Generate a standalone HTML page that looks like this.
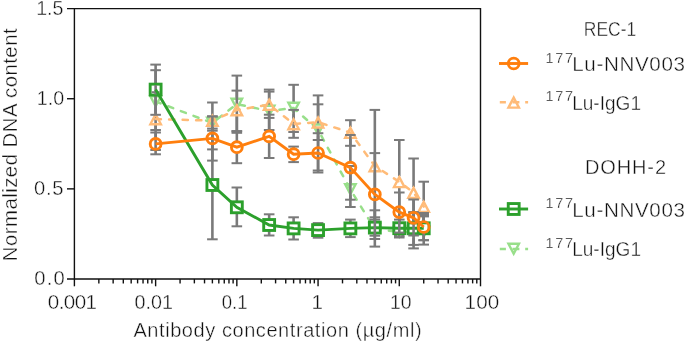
<!DOCTYPE html>
<html><head><meta charset="utf-8"><style>
html,body{margin:0;padding:0;background:#fff;}
body{width:685px;height:344px;overflow:hidden;font-family:"Liberation Sans",sans-serif;}
svg{display:block;}
svg{will-change:transform;}
</style></head><body>
<svg width="685" height="344" viewBox="0 0 685 344">
<g stroke="#111" stroke-width="1.4" fill="none">
<path d="M67,8.6 H480.5 V279.0 M74.4,8.6 V279.0 M67,279.0 H480.5"/>
<path d="M67,188.87 H74.4"/>
<path d="M67,98.73 H74.4"/>
<path d="M74.4,279.0 V286.3"/>
<path d="M155.62,279.0 V286.3"/>
<path d="M236.84,279.0 V286.3"/>
<path d="M318.06,279.0 V286.3"/>
<path d="M399.28,279.0 V286.3"/>
<path d="M480.5,279.0 V286.3"/>
<path d="M98.85,279.0 V283.4"/>
<path d="M113.15,279.0 V283.4"/>
<path d="M123.3,279.0 V283.4"/>
<path d="M131.17,279.0 V283.4"/>
<path d="M137.6,279.0 V283.4"/>
<path d="M143.04,279.0 V283.4"/>
<path d="M147.75,279.0 V283.4"/>
<path d="M151.9,279.0 V283.4"/>
<path d="M180.07,279.0 V283.4"/>
<path d="M194.37,279.0 V283.4"/>
<path d="M204.52,279.0 V283.4"/>
<path d="M212.39,279.0 V283.4"/>
<path d="M218.82,279.0 V283.4"/>
<path d="M224.26,279.0 V283.4"/>
<path d="M228.97,279.0 V283.4"/>
<path d="M233.12,279.0 V283.4"/>
<path d="M261.29,279.0 V283.4"/>
<path d="M275.59,279.0 V283.4"/>
<path d="M285.74,279.0 V283.4"/>
<path d="M293.61,279.0 V283.4"/>
<path d="M300.04,279.0 V283.4"/>
<path d="M305.48,279.0 V283.4"/>
<path d="M310.19,279.0 V283.4"/>
<path d="M314.34,279.0 V283.4"/>
<path d="M342.51,279.0 V283.4"/>
<path d="M356.81,279.0 V283.4"/>
<path d="M366.96,279.0 V283.4"/>
<path d="M374.83,279.0 V283.4"/>
<path d="M381.26,279.0 V283.4"/>
<path d="M386.7,279.0 V283.4"/>
<path d="M391.41,279.0 V283.4"/>
<path d="M395.56,279.0 V283.4"/>
<path d="M423.73,279.0 V283.4"/>
<path d="M438.03,279.0 V283.4"/>
<path d="M448.18,279.0 V283.4"/>
<path d="M456.05,279.0 V283.4"/>
<path d="M462.48,279.0 V283.4"/>
<path d="M467.92,279.0 V283.4"/>
<path d="M472.63,279.0 V283.4"/>
<path d="M476.78,279.0 V283.4"/>
</g>
<line x1="155.62" y1="70.2" x2="155.62" y2="95.9" stroke="#7a7a7a" stroke-width="2.6"/>
<line x1="155.62" y1="107.1" x2="155.62" y2="130" stroke="#7a7a7a" stroke-width="2.6"/>
<line x1="150.32" y1="70.2" x2="160.92" y2="70.2" stroke="#7a7a7a" stroke-width="2.0"/>
<line x1="150.32" y1="130" x2="160.92" y2="130" stroke="#7a7a7a" stroke-width="2.0"/>
<line x1="212.39" y1="102.5" x2="212.39" y2="117.4" stroke="#7a7a7a" stroke-width="2.6"/>
<line x1="212.39" y1="128.6" x2="212.39" y2="149.4" stroke="#7a7a7a" stroke-width="2.6"/>
<line x1="207.09" y1="102.5" x2="217.69" y2="102.5" stroke="#7a7a7a" stroke-width="2.0"/>
<line x1="207.09" y1="149.4" x2="217.69" y2="149.4" stroke="#7a7a7a" stroke-width="2.0"/>
<line x1="236.84" y1="75.6" x2="236.84" y2="98.5" stroke="#7a7a7a" stroke-width="2.6"/>
<line x1="236.84" y1="109.7" x2="236.84" y2="131.2" stroke="#7a7a7a" stroke-width="2.6"/>
<line x1="231.54" y1="75.6" x2="242.14" y2="75.6" stroke="#7a7a7a" stroke-width="2.0"/>
<line x1="231.54" y1="131.2" x2="242.14" y2="131.2" stroke="#7a7a7a" stroke-width="2.0"/>
<line x1="269.16" y1="89.6" x2="269.16" y2="105.4" stroke="#7a7a7a" stroke-width="2.6"/>
<line x1="269.16" y1="116.6" x2="269.16" y2="130" stroke="#7a7a7a" stroke-width="2.6"/>
<line x1="263.86" y1="89.6" x2="274.46" y2="89.6" stroke="#7a7a7a" stroke-width="2.0"/>
<line x1="263.86" y1="130" x2="274.46" y2="130" stroke="#7a7a7a" stroke-width="2.0"/>
<line x1="293.61" y1="84.8" x2="293.61" y2="102.4" stroke="#7a7a7a" stroke-width="2.6"/>
<line x1="293.61" y1="113.6" x2="293.61" y2="132" stroke="#7a7a7a" stroke-width="2.6"/>
<line x1="288.31" y1="84.8" x2="298.91" y2="84.8" stroke="#7a7a7a" stroke-width="2.0"/>
<line x1="288.31" y1="132" x2="298.91" y2="132" stroke="#7a7a7a" stroke-width="2.0"/>
<line x1="318.06" y1="95.4" x2="318.06" y2="124.2" stroke="#7a7a7a" stroke-width="2.6"/>
<line x1="318.06" y1="135.4" x2="318.06" y2="170.5" stroke="#7a7a7a" stroke-width="2.6"/>
<line x1="312.76" y1="95.4" x2="323.36" y2="95.4" stroke="#7a7a7a" stroke-width="2.0"/>
<line x1="312.76" y1="170.5" x2="323.36" y2="170.5" stroke="#7a7a7a" stroke-width="2.0"/>
<line x1="350.38" y1="166" x2="350.38" y2="183.9" stroke="#7a7a7a" stroke-width="2.6"/>
<line x1="350.38" y1="195.1" x2="350.38" y2="207" stroke="#7a7a7a" stroke-width="2.6"/>
<line x1="345.08" y1="166" x2="355.68" y2="166" stroke="#7a7a7a" stroke-width="2.0"/>
<line x1="345.08" y1="207" x2="355.68" y2="207" stroke="#7a7a7a" stroke-width="2.0"/>
<line x1="374.83" y1="210.3" x2="374.83" y2="223.4" stroke="#7a7a7a" stroke-width="2.6"/>
<line x1="374.83" y1="234.6" x2="374.83" y2="246.6" stroke="#7a7a7a" stroke-width="2.6"/>
<line x1="369.53" y1="210.3" x2="380.13" y2="210.3" stroke="#7a7a7a" stroke-width="2.0"/>
<line x1="369.53" y1="246.6" x2="380.13" y2="246.6" stroke="#7a7a7a" stroke-width="2.0"/>
<line x1="399.28" y1="225" x2="399.28" y2="226.4" stroke="#7a7a7a" stroke-width="2.6"/>
<line x1="393.98" y1="225" x2="404.58" y2="225" stroke="#7a7a7a" stroke-width="2.0"/>
<line x1="393.98" y1="236" x2="404.58" y2="236" stroke="#7a7a7a" stroke-width="2.0"/>
<line x1="413.58" y1="212.6" x2="413.58" y2="226.4" stroke="#7a7a7a" stroke-width="2.6"/>
<line x1="413.58" y1="237.6" x2="413.58" y2="248.4" stroke="#7a7a7a" stroke-width="2.6"/>
<line x1="408.28" y1="212.6" x2="418.88" y2="212.6" stroke="#7a7a7a" stroke-width="2.0"/>
<line x1="408.28" y1="248.4" x2="418.88" y2="248.4" stroke="#7a7a7a" stroke-width="2.0"/>
<line x1="423.73" y1="216.4" x2="423.73" y2="226.4" stroke="#7a7a7a" stroke-width="2.6"/>
<line x1="423.73" y1="237.6" x2="423.73" y2="244.6" stroke="#7a7a7a" stroke-width="2.6"/>
<line x1="418.43" y1="216.4" x2="429.03" y2="216.4" stroke="#7a7a7a" stroke-width="2.0"/>
<line x1="418.43" y1="244.6" x2="429.03" y2="244.6" stroke="#7a7a7a" stroke-width="2.0"/>
<path d="M155.62,106.22 L160.88,96.2 L150.36,96.2 Z" fill="#fff" stroke="#98df8a" stroke-width="2.4" stroke-linejoin="miter"/>
<path d="M212.39,127.72 L217.65,117.7 L207.13,117.7 Z" fill="#fff" stroke="#98df8a" stroke-width="2.4" stroke-linejoin="miter"/>
<path d="M236.84,108.82 L242.1,98.8 L231.58,98.8 Z" fill="#fff" stroke="#98df8a" stroke-width="2.4" stroke-linejoin="miter"/>
<path d="M269.16,115.72 L274.42,105.7 L263.9,105.7 Z" fill="#fff" stroke="#98df8a" stroke-width="2.4" stroke-linejoin="miter"/>
<path d="M293.61,112.72 L298.87,102.7 L288.35,102.7 Z" fill="#fff" stroke="#98df8a" stroke-width="2.4" stroke-linejoin="miter"/>
<path d="M318.06,134.52 L323.32,124.5 L312.8,124.5 Z" fill="#fff" stroke="#98df8a" stroke-width="2.4" stroke-linejoin="miter"/>
<path d="M350.38,194.22 L355.64,184.2 L345.12,184.2 Z" fill="#fff" stroke="#98df8a" stroke-width="2.4" stroke-linejoin="miter"/>
<path d="M374.83,233.72 L380.09,223.7 L369.57,223.7 Z" fill="#fff" stroke="#98df8a" stroke-width="2.4" stroke-linejoin="miter"/>
<path d="M399.28,236.72 L404.54,226.7 L394.02,226.7 Z" fill="#fff" stroke="#98df8a" stroke-width="2.4" stroke-linejoin="miter"/>
<path d="M413.58,236.72 L418.84,226.7 L408.32,226.7 Z" fill="#fff" stroke="#98df8a" stroke-width="2.4" stroke-linejoin="miter"/>
<path d="M423.73,236.72 L428.99,226.7 L418.47,226.7 Z" fill="#fff" stroke="#98df8a" stroke-width="2.4" stroke-linejoin="miter"/>
<polyline points="155.62,101.5 212.39,123 236.84,104.1 269.16,111 293.61,108 318.06,129.8 350.38,189.5 374.83,229 399.28,232 413.58,232 423.73,232" fill="none" stroke="#98df8a" stroke-width="2.5" stroke-dasharray="5.3 8.2" stroke-linecap="round"/>
<line x1="155.62" y1="92" x2="155.62" y2="113.4" stroke="#7a7a7a" stroke-width="2.6"/>
<line x1="155.62" y1="124.6" x2="155.62" y2="150" stroke="#7a7a7a" stroke-width="2.6"/>
<line x1="150.32" y1="92" x2="160.92" y2="92" stroke="#7a7a7a" stroke-width="2.0"/>
<line x1="150.32" y1="150" x2="160.92" y2="150" stroke="#7a7a7a" stroke-width="2.0"/>
<line x1="212.39" y1="126.2" x2="212.39" y2="128.6" stroke="#7a7a7a" stroke-width="2.6"/>
<line x1="207.09" y1="116.4" x2="217.69" y2="116.4" stroke="#7a7a7a" stroke-width="2.0"/>
<line x1="207.09" y1="128.6" x2="217.69" y2="128.6" stroke="#7a7a7a" stroke-width="2.0"/>
<line x1="236.84" y1="90.6" x2="236.84" y2="104.4" stroke="#7a7a7a" stroke-width="2.6"/>
<line x1="236.84" y1="115.6" x2="236.84" y2="131.2" stroke="#7a7a7a" stroke-width="2.6"/>
<line x1="231.54" y1="90.6" x2="242.14" y2="90.6" stroke="#7a7a7a" stroke-width="2.0"/>
<line x1="231.54" y1="131.2" x2="242.14" y2="131.2" stroke="#7a7a7a" stroke-width="2.0"/>
<line x1="269.16" y1="91.6" x2="269.16" y2="99" stroke="#7a7a7a" stroke-width="2.6"/>
<line x1="269.16" y1="110.2" x2="269.16" y2="117.9" stroke="#7a7a7a" stroke-width="2.6"/>
<line x1="263.86" y1="91.6" x2="274.46" y2="91.6" stroke="#7a7a7a" stroke-width="2.0"/>
<line x1="263.86" y1="117.9" x2="274.46" y2="117.9" stroke="#7a7a7a" stroke-width="2.0"/>
<line x1="293.61" y1="109.9" x2="293.61" y2="118.4" stroke="#7a7a7a" stroke-width="2.6"/>
<line x1="293.61" y1="129.6" x2="293.61" y2="137.8" stroke="#7a7a7a" stroke-width="2.6"/>
<line x1="288.31" y1="109.9" x2="298.91" y2="109.9" stroke="#7a7a7a" stroke-width="2.0"/>
<line x1="288.31" y1="137.8" x2="298.91" y2="137.8" stroke="#7a7a7a" stroke-width="2.0"/>
<line x1="318.06" y1="104.3" x2="318.06" y2="116.6" stroke="#7a7a7a" stroke-width="2.6"/>
<line x1="318.06" y1="127.8" x2="318.06" y2="140" stroke="#7a7a7a" stroke-width="2.6"/>
<line x1="312.76" y1="104.3" x2="323.36" y2="104.3" stroke="#7a7a7a" stroke-width="2.0"/>
<line x1="312.76" y1="140" x2="323.36" y2="140" stroke="#7a7a7a" stroke-width="2.0"/>
<line x1="350.38" y1="120.2" x2="350.38" y2="127" stroke="#7a7a7a" stroke-width="2.6"/>
<line x1="350.38" y1="138.2" x2="350.38" y2="145.8" stroke="#7a7a7a" stroke-width="2.6"/>
<line x1="345.08" y1="120.2" x2="355.68" y2="120.2" stroke="#7a7a7a" stroke-width="2.0"/>
<line x1="345.08" y1="145.8" x2="355.68" y2="145.8" stroke="#7a7a7a" stroke-width="2.0"/>
<line x1="374.83" y1="109.9" x2="374.83" y2="160.4" stroke="#7a7a7a" stroke-width="2.6"/>
<line x1="374.83" y1="171.6" x2="374.83" y2="219.6" stroke="#7a7a7a" stroke-width="2.6"/>
<line x1="369.53" y1="109.9" x2="380.13" y2="109.9" stroke="#7a7a7a" stroke-width="2.0"/>
<line x1="369.53" y1="219.6" x2="380.13" y2="219.6" stroke="#7a7a7a" stroke-width="2.0"/>
<line x1="399.28" y1="140" x2="399.28" y2="176.2" stroke="#7a7a7a" stroke-width="2.6"/>
<line x1="399.28" y1="187.4" x2="399.28" y2="223" stroke="#7a7a7a" stroke-width="2.6"/>
<line x1="393.98" y1="140" x2="404.58" y2="140" stroke="#7a7a7a" stroke-width="2.0"/>
<line x1="393.98" y1="223" x2="404.58" y2="223" stroke="#7a7a7a" stroke-width="2.0"/>
<line x1="413.58" y1="158.5" x2="413.58" y2="187" stroke="#7a7a7a" stroke-width="2.6"/>
<line x1="413.58" y1="198.2" x2="413.58" y2="226.5" stroke="#7a7a7a" stroke-width="2.6"/>
<line x1="408.28" y1="158.5" x2="418.88" y2="158.5" stroke="#7a7a7a" stroke-width="2.0"/>
<line x1="408.28" y1="226.5" x2="418.88" y2="226.5" stroke="#7a7a7a" stroke-width="2.0"/>
<line x1="423.73" y1="181.7" x2="423.73" y2="201" stroke="#7a7a7a" stroke-width="2.6"/>
<line x1="423.73" y1="212.2" x2="423.73" y2="230.7" stroke="#7a7a7a" stroke-width="2.6"/>
<line x1="418.43" y1="181.7" x2="429.03" y2="181.7" stroke="#7a7a7a" stroke-width="2.0"/>
<line x1="418.43" y1="230.7" x2="429.03" y2="230.7" stroke="#7a7a7a" stroke-width="2.0"/>
<path d="M155.62,114.28 L160.88,124.3 L150.36,124.3 Z" fill="none" stroke="#ffbb78" stroke-width="2.4" stroke-linejoin="miter"/>
<path d="M212.39,115.88 L217.65,125.9 L207.13,125.9 Z" fill="none" stroke="#ffbb78" stroke-width="2.4" stroke-linejoin="miter"/>
<path d="M236.84,105.28 L242.1,115.3 L231.58,115.3 Z" fill="none" stroke="#ffbb78" stroke-width="2.4" stroke-linejoin="miter"/>
<path d="M269.16,99.88 L274.42,109.9 L263.9,109.9 Z" fill="none" stroke="#ffbb78" stroke-width="2.4" stroke-linejoin="miter"/>
<path d="M293.61,119.28 L298.87,129.3 L288.35,129.3 Z" fill="none" stroke="#ffbb78" stroke-width="2.4" stroke-linejoin="miter"/>
<path d="M318.06,117.48 L323.32,127.5 L312.8,127.5 Z" fill="none" stroke="#ffbb78" stroke-width="2.4" stroke-linejoin="miter"/>
<path d="M350.38,127.88 L355.64,137.9 L345.12,137.9 Z" fill="none" stroke="#ffbb78" stroke-width="2.4" stroke-linejoin="miter"/>
<path d="M374.83,161.28 L380.09,171.3 L369.57,171.3 Z" fill="none" stroke="#ffbb78" stroke-width="2.4" stroke-linejoin="miter"/>
<path d="M399.28,177.08 L404.54,187.1 L394.02,187.1 Z" fill="none" stroke="#ffbb78" stroke-width="2.4" stroke-linejoin="miter"/>
<path d="M413.58,187.88 L418.84,197.9 L408.32,197.9 Z" fill="none" stroke="#ffbb78" stroke-width="2.4" stroke-linejoin="miter"/>
<path d="M423.73,201.88 L428.99,211.9 L418.47,211.9 Z" fill="none" stroke="#ffbb78" stroke-width="2.4" stroke-linejoin="miter"/>
<polyline points="155.62,119 212.39,120.6 236.84,110 269.16,104.6 293.61,124 318.06,122.2 350.38,132.6 374.83,166 399.28,181.8 413.58,192.6 423.73,206.6" fill="none" stroke="#ffbb78" stroke-width="2.5" stroke-dasharray="5.3 8.2" stroke-linecap="round"/>
<line x1="155.62" y1="64.6" x2="155.62" y2="84" stroke="#7a7a7a" stroke-width="2.6"/>
<line x1="155.62" y1="95.2" x2="155.62" y2="114.8" stroke="#7a7a7a" stroke-width="2.6"/>
<line x1="150.32" y1="64.6" x2="160.92" y2="64.6" stroke="#7a7a7a" stroke-width="2.0"/>
<line x1="150.32" y1="114.8" x2="160.92" y2="114.8" stroke="#7a7a7a" stroke-width="2.0"/>
<line x1="212.39" y1="130.7" x2="212.39" y2="179.4" stroke="#7a7a7a" stroke-width="2.6"/>
<line x1="212.39" y1="190.6" x2="212.39" y2="239.3" stroke="#7a7a7a" stroke-width="2.6"/>
<line x1="207.09" y1="130.7" x2="217.69" y2="130.7" stroke="#7a7a7a" stroke-width="2.0"/>
<line x1="207.09" y1="239.3" x2="217.69" y2="239.3" stroke="#7a7a7a" stroke-width="2.0"/>
<line x1="236.84" y1="187.5" x2="236.84" y2="201.7" stroke="#7a7a7a" stroke-width="2.6"/>
<line x1="236.84" y1="212.9" x2="236.84" y2="226.3" stroke="#7a7a7a" stroke-width="2.6"/>
<line x1="231.54" y1="187.5" x2="242.14" y2="187.5" stroke="#7a7a7a" stroke-width="2.0"/>
<line x1="231.54" y1="226.3" x2="242.14" y2="226.3" stroke="#7a7a7a" stroke-width="2.0"/>
<line x1="269.16" y1="214.3" x2="269.16" y2="219.4" stroke="#7a7a7a" stroke-width="2.6"/>
<line x1="269.16" y1="230.6" x2="269.16" y2="235.5" stroke="#7a7a7a" stroke-width="2.6"/>
<line x1="263.86" y1="214.3" x2="274.46" y2="214.3" stroke="#7a7a7a" stroke-width="2.0"/>
<line x1="263.86" y1="235.5" x2="274.46" y2="235.5" stroke="#7a7a7a" stroke-width="2.0"/>
<line x1="293.61" y1="217.3" x2="293.61" y2="222.8" stroke="#7a7a7a" stroke-width="2.6"/>
<line x1="293.61" y1="234" x2="293.61" y2="239.5" stroke="#7a7a7a" stroke-width="2.6"/>
<line x1="288.31" y1="217.3" x2="298.91" y2="217.3" stroke="#7a7a7a" stroke-width="2.0"/>
<line x1="288.31" y1="239.5" x2="298.91" y2="239.5" stroke="#7a7a7a" stroke-width="2.0"/>
<line x1="318.06" y1="223.1" x2="318.06" y2="224.5" stroke="#7a7a7a" stroke-width="2.6"/>
<line x1="318.06" y1="235.7" x2="318.06" y2="237.7" stroke="#7a7a7a" stroke-width="2.6"/>
<line x1="312.76" y1="223.1" x2="323.36" y2="223.1" stroke="#7a7a7a" stroke-width="2.0"/>
<line x1="312.76" y1="237.7" x2="323.36" y2="237.7" stroke="#7a7a7a" stroke-width="2.0"/>
<line x1="350.38" y1="219.6" x2="350.38" y2="222.8" stroke="#7a7a7a" stroke-width="2.6"/>
<line x1="350.38" y1="234" x2="350.38" y2="237.1" stroke="#7a7a7a" stroke-width="2.6"/>
<line x1="345.08" y1="219.6" x2="355.68" y2="219.6" stroke="#7a7a7a" stroke-width="2.0"/>
<line x1="345.08" y1="237.1" x2="355.68" y2="237.1" stroke="#7a7a7a" stroke-width="2.0"/>
<line x1="374.83" y1="217.3" x2="374.83" y2="222" stroke="#7a7a7a" stroke-width="2.6"/>
<line x1="374.83" y1="233.2" x2="374.83" y2="239" stroke="#7a7a7a" stroke-width="2.6"/>
<line x1="369.53" y1="217.3" x2="380.13" y2="217.3" stroke="#7a7a7a" stroke-width="2.0"/>
<line x1="369.53" y1="239" x2="380.13" y2="239" stroke="#7a7a7a" stroke-width="2.0"/>
<line x1="399.28" y1="219.6" x2="399.28" y2="222.6" stroke="#7a7a7a" stroke-width="2.6"/>
<line x1="399.28" y1="233.8" x2="399.28" y2="237.5" stroke="#7a7a7a" stroke-width="2.6"/>
<line x1="393.98" y1="219.6" x2="404.58" y2="219.6" stroke="#7a7a7a" stroke-width="2.0"/>
<line x1="393.98" y1="237.5" x2="404.58" y2="237.5" stroke="#7a7a7a" stroke-width="2.0"/>
<line x1="413.58" y1="212.1" x2="413.58" y2="222.7" stroke="#7a7a7a" stroke-width="2.6"/>
<line x1="413.58" y1="233.9" x2="413.58" y2="244.9" stroke="#7a7a7a" stroke-width="2.6"/>
<line x1="408.28" y1="212.1" x2="418.88" y2="212.1" stroke="#7a7a7a" stroke-width="2.0"/>
<line x1="408.28" y1="244.9" x2="418.88" y2="244.9" stroke="#7a7a7a" stroke-width="2.0"/>
<line x1="423.73" y1="215" x2="423.73" y2="222.7" stroke="#7a7a7a" stroke-width="2.6"/>
<line x1="423.73" y1="233.9" x2="423.73" y2="240.2" stroke="#7a7a7a" stroke-width="2.6"/>
<line x1="418.43" y1="215" x2="429.03" y2="215" stroke="#7a7a7a" stroke-width="2.0"/>
<line x1="418.43" y1="240.2" x2="429.03" y2="240.2" stroke="#7a7a7a" stroke-width="2.0"/>
<rect x="150.17" y="84.15" width="10.9" height="10.9" fill="#fff" stroke="#2ca02c" stroke-width="2.9"/>
<rect x="206.94" y="179.55" width="10.9" height="10.9" fill="#fff" stroke="#2ca02c" stroke-width="2.9"/>
<rect x="231.39" y="201.85" width="10.9" height="10.9" fill="#fff" stroke="#2ca02c" stroke-width="2.9"/>
<rect x="263.71" y="219.55" width="10.9" height="10.9" fill="#fff" stroke="#2ca02c" stroke-width="2.9"/>
<rect x="288.16" y="222.95" width="10.9" height="10.9" fill="#fff" stroke="#2ca02c" stroke-width="2.9"/>
<rect x="312.61" y="224.65" width="10.9" height="10.9" fill="#fff" stroke="#2ca02c" stroke-width="2.9"/>
<rect x="344.93" y="222.95" width="10.9" height="10.9" fill="#fff" stroke="#2ca02c" stroke-width="2.9"/>
<rect x="369.38" y="222.15" width="10.9" height="10.9" fill="#fff" stroke="#2ca02c" stroke-width="2.9"/>
<rect x="393.83" y="222.75" width="10.9" height="10.9" fill="#fff" stroke="#2ca02c" stroke-width="2.9"/>
<rect x="408.13" y="222.85" width="10.9" height="10.9" fill="#fff" stroke="#2ca02c" stroke-width="2.9"/>
<rect x="418.28" y="222.85" width="10.9" height="10.9" fill="#fff" stroke="#2ca02c" stroke-width="2.9"/>
<line x1="155.62" y1="85" x2="155.62" y2="94.5" stroke="#7a7a7a" stroke-width="2.6"/>
<line x1="151.62" y1="92.2" x2="159.62" y2="92.2" stroke="#7a7a7a" stroke-width="2.0"/>
<polyline points="155.62,89.6 212.39,185 236.84,207.3 269.16,225 293.61,228.4 318.06,230.1 350.38,228.4 374.83,227.6 399.28,228.2 413.58,228.3 423.73,228.3" fill="none" stroke="#2ca02c" stroke-width="2.9"/>
<line x1="155.62" y1="132.5" x2="155.62" y2="138.3" stroke="#7a7a7a" stroke-width="2.6"/>
<line x1="155.62" y1="149.5" x2="155.62" y2="154.3" stroke="#7a7a7a" stroke-width="2.6"/>
<line x1="150.32" y1="132.5" x2="160.92" y2="132.5" stroke="#7a7a7a" stroke-width="2.0"/>
<line x1="150.32" y1="154.3" x2="160.92" y2="154.3" stroke="#7a7a7a" stroke-width="2.0"/>
<line x1="212.39" y1="116.4" x2="212.39" y2="132.8" stroke="#7a7a7a" stroke-width="2.6"/>
<line x1="212.39" y1="144" x2="212.39" y2="160.6" stroke="#7a7a7a" stroke-width="2.6"/>
<line x1="207.09" y1="116.4" x2="217.69" y2="116.4" stroke="#7a7a7a" stroke-width="2.0"/>
<line x1="207.09" y1="160.6" x2="217.69" y2="160.6" stroke="#7a7a7a" stroke-width="2.0"/>
<line x1="236.84" y1="132.8" x2="236.84" y2="141.6" stroke="#7a7a7a" stroke-width="2.6"/>
<line x1="236.84" y1="152.8" x2="236.84" y2="163.2" stroke="#7a7a7a" stroke-width="2.6"/>
<line x1="231.54" y1="132.8" x2="242.14" y2="132.8" stroke="#7a7a7a" stroke-width="2.0"/>
<line x1="231.54" y1="163.2" x2="242.14" y2="163.2" stroke="#7a7a7a" stroke-width="2.0"/>
<line x1="269.16" y1="114.7" x2="269.16" y2="130.8" stroke="#7a7a7a" stroke-width="2.6"/>
<line x1="269.16" y1="142" x2="269.16" y2="158" stroke="#7a7a7a" stroke-width="2.6"/>
<line x1="263.86" y1="114.7" x2="274.46" y2="114.7" stroke="#7a7a7a" stroke-width="2.0"/>
<line x1="263.86" y1="158" x2="274.46" y2="158" stroke="#7a7a7a" stroke-width="2.0"/>
<line x1="293.61" y1="146.6" x2="293.61" y2="148.6" stroke="#7a7a7a" stroke-width="2.6"/>
<line x1="293.61" y1="159.8" x2="293.61" y2="162.1" stroke="#7a7a7a" stroke-width="2.6"/>
<line x1="288.31" y1="146.6" x2="298.91" y2="146.6" stroke="#7a7a7a" stroke-width="2.0"/>
<line x1="288.31" y1="162.1" x2="298.91" y2="162.1" stroke="#7a7a7a" stroke-width="2.0"/>
<line x1="318.06" y1="133.2" x2="318.06" y2="147.4" stroke="#7a7a7a" stroke-width="2.6"/>
<line x1="318.06" y1="158.6" x2="318.06" y2="172.5" stroke="#7a7a7a" stroke-width="2.6"/>
<line x1="312.76" y1="133.2" x2="323.36" y2="133.2" stroke="#7a7a7a" stroke-width="2.0"/>
<line x1="312.76" y1="172.5" x2="323.36" y2="172.5" stroke="#7a7a7a" stroke-width="2.0"/>
<line x1="350.38" y1="135" x2="350.38" y2="162" stroke="#7a7a7a" stroke-width="2.6"/>
<line x1="350.38" y1="173.2" x2="350.38" y2="199.7" stroke="#7a7a7a" stroke-width="2.6"/>
<line x1="345.08" y1="135" x2="355.68" y2="135" stroke="#7a7a7a" stroke-width="2.0"/>
<line x1="345.08" y1="199.7" x2="355.68" y2="199.7" stroke="#7a7a7a" stroke-width="2.0"/>
<line x1="374.83" y1="153.1" x2="374.83" y2="188.8" stroke="#7a7a7a" stroke-width="2.6"/>
<line x1="374.83" y1="200" x2="374.83" y2="235.7" stroke="#7a7a7a" stroke-width="2.6"/>
<line x1="369.53" y1="153.1" x2="380.13" y2="153.1" stroke="#7a7a7a" stroke-width="2.0"/>
<line x1="369.53" y1="235.7" x2="380.13" y2="235.7" stroke="#7a7a7a" stroke-width="2.0"/>
<line x1="399.28" y1="192.5" x2="399.28" y2="206.5" stroke="#7a7a7a" stroke-width="2.6"/>
<line x1="399.28" y1="217.7" x2="399.28" y2="232.6" stroke="#7a7a7a" stroke-width="2.6"/>
<line x1="393.98" y1="192.5" x2="404.58" y2="192.5" stroke="#7a7a7a" stroke-width="2.0"/>
<line x1="393.98" y1="232.6" x2="404.58" y2="232.6" stroke="#7a7a7a" stroke-width="2.0"/>
<line x1="413.58" y1="199.5" x2="413.58" y2="212.2" stroke="#7a7a7a" stroke-width="2.6"/>
<line x1="413.58" y1="223.4" x2="413.58" y2="235.5" stroke="#7a7a7a" stroke-width="2.6"/>
<line x1="408.28" y1="199.5" x2="418.88" y2="199.5" stroke="#7a7a7a" stroke-width="2.0"/>
<line x1="408.28" y1="235.5" x2="418.88" y2="235.5" stroke="#7a7a7a" stroke-width="2.0"/>
<line x1="423.73" y1="213" x2="423.73" y2="221.4" stroke="#7a7a7a" stroke-width="2.6"/>
<line x1="423.73" y1="232.6" x2="423.73" y2="240.2" stroke="#7a7a7a" stroke-width="2.6"/>
<line x1="418.43" y1="213" x2="429.03" y2="213" stroke="#7a7a7a" stroke-width="2.0"/>
<line x1="418.43" y1="240.2" x2="429.03" y2="240.2" stroke="#7a7a7a" stroke-width="2.0"/>
<circle cx="155.62" cy="143.9" r="5.4" fill="none" stroke="#ff7f0e" stroke-width="2.9"/>
<circle cx="212.39" cy="138.4" r="5.4" fill="none" stroke="#ff7f0e" stroke-width="2.9"/>
<circle cx="236.84" cy="147.2" r="5.4" fill="none" stroke="#ff7f0e" stroke-width="2.9"/>
<circle cx="269.16" cy="136.4" r="5.4" fill="none" stroke="#ff7f0e" stroke-width="2.9"/>
<circle cx="293.61" cy="154.2" r="5.4" fill="none" stroke="#ff7f0e" stroke-width="2.9"/>
<circle cx="318.06" cy="153" r="5.4" fill="none" stroke="#ff7f0e" stroke-width="2.9"/>
<circle cx="350.38" cy="167.6" r="5.4" fill="none" stroke="#ff7f0e" stroke-width="2.9"/>
<circle cx="374.83" cy="194.4" r="5.4" fill="none" stroke="#ff7f0e" stroke-width="2.9"/>
<circle cx="399.28" cy="212.1" r="5.4" fill="none" stroke="#ff7f0e" stroke-width="2.9"/>
<circle cx="413.58" cy="217.8" r="5.4" fill="none" stroke="#ff7f0e" stroke-width="2.9"/>
<circle cx="423.73" cy="227" r="5.4" fill="none" stroke="#ff7f0e" stroke-width="2.9"/>
<polyline points="155.62,143.9 212.39,138.4 236.84,147.2 269.16,136.4 293.61,154.2 318.06,153 350.38,167.6 374.83,194.4 399.28,212.1 413.58,217.8 423.73,227" fill="none" stroke="#ff7f0e" stroke-width="2.9"/>
<circle cx="513.7" cy="63.5" r="5.4" fill="#fff" stroke="#ff7f0e" stroke-width="2.9"/>
<line x1="499" y1="63.5" x2="528.1" y2="63.5" stroke="#ff7f0e" stroke-width="2.9"/>
<path d="M513.7,97.58 L518.96,107.6 L508.44,107.6 Z" fill="#fff" stroke="#ffbb78" stroke-width="2.4" stroke-linejoin="miter"/>
<path d="M499.8,102.3 H505.9 M512.5,102.3 H519.4 M525.2,102.3 H528.1" stroke="#ffbb78" stroke-width="2.5"/>
<rect x="508.25" y="203.55" width="10.9" height="10.9" fill="#fff" stroke="#2ca02c" stroke-width="2.9"/>
<line x1="499" y1="209" x2="528.1" y2="209" stroke="#2ca02c" stroke-width="2.9"/>
<path d="M513.7,253.72 L518.96,243.7 L508.44,243.7 Z" fill="#fff" stroke="#98df8a" stroke-width="2.4" stroke-linejoin="miter"/>
<path d="M499.8,249 H505.9 M512.5,249 H519.4 M525.2,249 H528.1" stroke="#98df8a" stroke-width="2.5"/>
<g fill="#111" stroke="#fff" stroke-width="0.4" font-family="Liberation Sans, sans-serif">
<text id="t0" x="583.8" y="36.4" font-size="20" text-anchor="start" textLength="52.4" lengthAdjust="spacingAndGlyphs">REC-1</text>
<text id="t1" x="585" y="174.1" font-size="20" text-anchor="start" textLength="81" lengthAdjust="spacing">DOHH-2</text>
<text id="t2" x="545.6" y="62.5" font-size="14.5" text-anchor="start" textLength="27.4" lengthAdjust="spacing" stroke-width="0.3">177</text>
<text id="t3" x="572.2" y="70.8" font-size="20.6" text-anchor="start" textLength="112.8" lengthAdjust="spacing">Lu-NNV003</text>
<text id="t4" x="545.6" y="101.2" font-size="14.5" text-anchor="start" textLength="27.4" lengthAdjust="spacing" stroke-width="0.3">177</text>
<text id="t5" x="572.2" y="109.5" font-size="20.6" text-anchor="start" textLength="68.8" lengthAdjust="spacingAndGlyphs">Lu-IgG1</text>
<text id="t6" x="545.6" y="208.1" font-size="14.5" text-anchor="start" textLength="27.4" lengthAdjust="spacing" stroke-width="0.3">177</text>
<text id="t7" x="572.2" y="216.5" font-size="20.6" text-anchor="start" textLength="112.8" lengthAdjust="spacing">Lu-NNV003</text>
<text id="t8" x="545.6" y="247.8" font-size="14.5" text-anchor="start" textLength="27.4" lengthAdjust="spacing" stroke-width="0.3">177</text>
<text id="t9" x="572.2" y="255.8" font-size="20.6" text-anchor="start" textLength="68.8" lengthAdjust="spacingAndGlyphs">Lu-IgG1</text>
<text id="t10" x="34.2" y="285.4" font-size="20.2" text-anchor="start" textLength="30.6" lengthAdjust="spacing">0.0</text>
<text id="t11" x="34" y="195.4" font-size="20.2" text-anchor="start" textLength="29.5" lengthAdjust="spacing">0.5</text>
<text id="t12" x="36.8" y="105.1" font-size="20.2" text-anchor="start" textLength="27.4" lengthAdjust="spacingAndGlyphs">1.0</text>
<text id="t13" x="36.2" y="15.1" font-size="20.2" text-anchor="start" textLength="27.3" lengthAdjust="spacingAndGlyphs">1.5</text>
<text id="t14" x="47.8" y="308.7" font-size="20.6" text-anchor="start" textLength="49.2" lengthAdjust="spacing">0.001</text>
<text id="t15" x="134.6" y="308.7" font-size="20.6" text-anchor="start" textLength="38.4" lengthAdjust="spacingAndGlyphs">0.01</text>
<text id="t16" x="221.8" y="308.7" font-size="20.6" text-anchor="start" textLength="25.8" lengthAdjust="spacingAndGlyphs">0.1</text>
<text id="t17" x="311.6" y="308.7" font-size="20.6" text-anchor="start">1</text>
<text id="t18" x="390" y="308.7" font-size="20.6" text-anchor="start" textLength="21.6" lengthAdjust="spacingAndGlyphs">10</text>
<text id="t19" x="464.6" y="308.7" font-size="20.6" text-anchor="start" textLength="34.6" lengthAdjust="spacing">100</text>
<text id="t20" x="133.4" y="337" font-size="20" text-anchor="start" textLength="288.2" lengthAdjust="spacing">Antibody concentration (µg/ml)</text>
<text id="t21" transform="translate(17.2,261.2) rotate(-90)" x="0" y="0" font-size="20.4" text-anchor="start" textLength="232.8" lengthAdjust="spacing">Normalized DNA content</text>
</g>
</svg>
</body></html>
